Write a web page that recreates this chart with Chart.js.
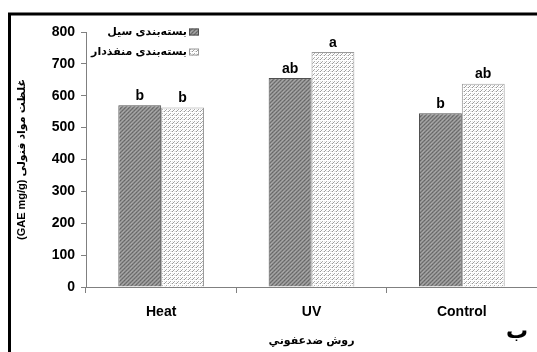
<!DOCTYPE html>
<html>
<head>
<meta charset="utf-8">
<script src="https://cdn.jsdelivr.net/npm/chart.js@4/dist/chart.umd.min.js"></script>
<style>
  html, body { margin: 0; padding: 0; background: #ffffff; }
  #c { display: block; }
</style>
</head>
<body>
<canvas id="c" width="537" height="352"></canvas>
<script>
// Disinfection methods and phenolic content (GAE mg/g) for the two packaging types
const categories = ['Heat', 'UV', 'Control'];
const sealedValues = [570, 656, 545];
const perforatedValues = [563, 737, 638];
const sealedLetters = ['b', 'ab', 'b'];
const perforatedLetters = ['b', 'a', 'ab'];
const seriesNames = ['بسته‌بندی سیل', 'بسته‌بندی منفذدار'];
const yTickValues = [0, 100, 200, 300, 400, 500, 600, 700, 800];
const yTitle = '(GAE mg/g) غلظت مواد فنولی';
const xTitle = 'روش ضدعفوني';
const panelLetter = 'ب';

const FONT = '"Liberation Sans", Arial, "DejaVu Sans", sans-serif';

// Small tiled textures for the two bar fills
function makePattern(size, base, pixels) {
  const cv = document.createElement('canvas');
  cv.width = size; cv.height = size;
  const g = cv.getContext('2d');
  g.fillStyle = base;
  g.fillRect(0, 0, size, size);
  pixels.forEach(([x, y, col]) => { g.fillStyle = col; g.fillRect(x, y, 1, 1); });
  return g.createPattern(cv, 'repeat');
}
const ctx = document.getElementById('c').getContext('2d');
const darkFill = makePattern(4, '#8c8c8c', [
  [0,0,'#666666'],[2,0,'#a8a8a8'],[1,1,'#a2a2a2'],[3,1,'#707070'],
  [0,2,'#a4a4a4'],[2,2,'#6a6a6a'],[1,3,'#727272'],[3,3,'#aaaaaa']
]);
const lightFill = makePattern(4, '#ffffff', [
  [0,3,'#969696'],[1,2,'#a0a0a0'],[2,1,'#acacac'],
  [3,3,'#dddddd'],[2,3,'#eaeaea'],[0,1,'#e8e8e8']
]);

// White page, heavy frame lines on the top and left, and the panel letter
const framePlugin = {
  id: 'frame',
  beforeDraw(chart) {
    const c = chart.ctx;
    c.save();
    c.fillStyle = '#ffffff';
    c.fillRect(0, 0, chart.width, chart.height);
    c.restore();
  },
  afterDraw(chart) {
    const c = chart.ctx;
    c.save();
    c.strokeStyle = '#000000';
    c.lineWidth = 3;
    c.beginPath();
    c.moveTo(8, 14);
    c.lineTo(chart.width, 14);
    c.moveTo(9.5, 12.5);
    c.lineTo(9.5, chart.height);
    c.stroke();
    c.fillStyle = '#000000';
    c.font = 'bold 22px ' + FONT;
    c.textAlign = 'center';
    c.textBaseline = 'alphabetic';
    c.fillText(panelLetter, 517, 338);
    c.restore();
  }
};

// Significance letters above each bar
const lettersPlugin = {
  id: 'letters',
  afterDatasetsDraw(chart) {
    const c = chart.ctx;
    const sets = [sealedLetters, perforatedLetters];
    c.save();
    c.fillStyle = '#000000';
    c.font = 'bold 14px ' + FONT;
    c.textAlign = 'center';
    c.textBaseline = 'bottom';
    chart.data.datasets.forEach((ds, di) => {
      chart.getDatasetMeta(di).data.forEach((bar, i) => {
        c.fillText(sets[di][i], bar.x, bar.y - 2);
      });
    });
    c.restore();
  }
};

// Legend inside the plot, text to the left of each swatch
const legendPlugin = {
  id: 'rtlLegend',
  afterDraw(chart) {
    const c = chart.ctx;
    c.save();
    c.font = 'bold 11px ' + FONT;
    c.textAlign = 'right';
    c.textBaseline = 'middle';
    chart.data.datasets.forEach((ds, i) => {
      const y = 32 + i * 20;
      c.fillStyle = ds.backgroundColor;
      c.fillRect(189, y - 3.5, 10, 7);
      c.strokeStyle = ds.borderColor;
      c.lineWidth = 1;
      c.strokeRect(189.5, y - 3, 9, 6);
      c.fillStyle = '#000000';
      c.fillText(ds.label, 187, y);
    });
    c.restore();
  }
};

new Chart(ctx, {
  type: 'bar',
  data: {
    labels: categories,
    datasets: [
      {
        label: seriesNames[0],
        data: sealedValues,
        backgroundColor: darkFill,
        borderColor: '#505050',
        borderWidth: 1,
        categoryPercentage: 0.57,
        barPercentage: 1.0
      },
      {
        label: seriesNames[1],
        data: perforatedValues,
        backgroundColor: lightFill,
        borderColor: '#9a9a9a',
        borderWidth: 1,
        categoryPercentage: 0.57,
        barPercentage: 1.0
      }
    ]
  },
  options: {
    responsive: false,
    animation: false,
    devicePixelRatio: 1,
    layout: { padding: { top: 32, right: 0, bottom: 0, left: 0 } },
    plugins: {
      legend: { display: false },
      tooltip: { enabled: false }
    },
    scales: {
      x: {
        grid: { display: true, drawOnChartArea: false, offset: true, tickLength: 6, color: '#808080' },
        border: { display: true, color: '#808080', width: 1 },
        ticks: { color: '#000000', font: { family: FONT, size: 14, weight: 'bold' }, padding: 11 },
        title: { display: true, text: xTitle, color: '#000000', font: { family: FONT, size: 11, weight: 'bold' }, padding: { top: 0, bottom: 4 } },
        afterFit(scale) { scale.height = 65; }
      },
      y: {
        min: 0,
        max: 800,
        afterBuildTicks(scale) { scale.ticks = yTickValues.map(v => ({ value: v })); },
        grid: { display: true, drawOnChartArea: false, tickLength: 5, color: '#808080' },
        border: { display: true, color: '#808080', width: 1 },
        ticks: { color: '#000000', font: { family: FONT, size: 14, weight: 'bold' }, padding: 6 },
        title: { display: true, text: yTitle, color: '#000000', font: { family: FONT, size: 11, weight: 'bold' }, padding: { top: 15, bottom: 0 } },
        afterFit(scale) { scale.width = 86; }
      }
    }
  },
  plugins: [framePlugin, lettersPlugin, legendPlugin]
});
</script>
</body>
</html>
